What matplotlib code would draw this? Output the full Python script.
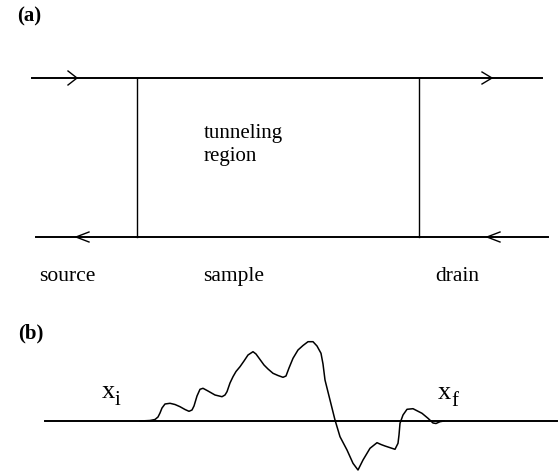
import matplotlib.pyplot as plt

# panel (a): lead lines and sample box, in picture pixels
lead_y = [78, 237]
lead_x = [(32, 542), (36, 548)]
box_x = [137, 419]

# arrow heads: (tip x, open-end x, y, half height)
arrow_tips = [(77, 68, 78, 7), (492, 482, 78, 6), (76, 89, 237, 5), (487, 500, 237, 5)]

labels = ["source", "sample", "drain"]
label_x = [39, 203, 435]

# panel (b): wave function along the path
wave_base_y = 421
wave_x = [140, 150, 155, 158, 160, 162, 165, 170, 175, 180, 185, 189, 192, 194,
          197, 200, 203, 208, 215, 222, 225, 227, 230, 233, 236, 240, 244, 248,
          253, 256, 260, 264, 268, 273, 278, 283, 286, 289, 293, 298, 303, 308,
          313, 317, 321, 323, 325, 330, 335, 340, 347, 353, 358, 360, 363, 370,
          377, 381, 385, 395, 398, 399, 400, 403, 407, 413, 422, 428, 433, 436,
          440, 444]
wave_y = [421, 420.5, 419.5, 417, 413, 408, 404, 403.3, 404.5, 406.7, 409.5, 411.3,
          410, 406, 396, 389.3, 388.3, 391, 395, 396.7, 395, 391.7, 383, 376.7,
          371.5, 366.7, 361, 355, 351.7, 354, 359.5, 365, 369, 373.3, 375.5, 377.3,
          376, 368, 358.3, 350, 345.5, 341.7, 341.7, 346, 353.3, 364, 380, 400,
          420, 436.7, 450, 463.3, 470, 466, 460, 448.3, 442.7, 444.5, 446, 449.3,
          443.3, 435, 423.3, 415, 409.3, 408.7, 413.3, 418.3, 423, 423.5, 421.7, 421]

fig = plt.figure(figsize=(5.58, 4.74), dpi=100)
ax = fig.add_axes([0, 0, 1, 1])
ax.set_xlim(0, 558)
ax.set_ylim(474, 0)
ax.axis("off")

serif = ["Liberation Serif", "DejaVu Serif"]

for y, (x0, x1) in zip(lead_y, lead_x):
    ax.plot([x0, x1], [y, y], color="black", lw=1.4)
for x in box_x:
    ax.plot([x, x], lead_y, color="black", lw=1.0)
for tip, back, y, h in arrow_tips:
    ax.plot([back, tip, back], [y - h, y, y + h], color="black", lw=1.0)

ax.text(17, 21, "(a)", family=serif, fontweight="bold", fontsize=15)
ax.text(204, 138, "tunneling", family=serif, fontsize=15)
ax.text(204, 161, "region", family=serif, fontsize=15)
for name, x in zip(labels, label_x):
    ax.text(x, 281, name, family=serif, fontsize=15.5)

ax.text(18, 338, "(b)", family=serif, fontweight="bold", fontsize=15)
ax.plot([45, 557], [wave_base_y, wave_base_y], color="black", lw=1.4)
ax.plot(wave_x, wave_y, color="black", lw=1.1)
ax.text(102, 398, "x", family=serif, fontsize=19)
ax.text(115, 405, "i", family=serif, fontsize=15)
ax.text(438, 399, "x", family=serif, fontsize=19)
ax.text(451, 406, "f", family=serif, fontsize=15)

fig.savefig("out.png", dpi=100)
